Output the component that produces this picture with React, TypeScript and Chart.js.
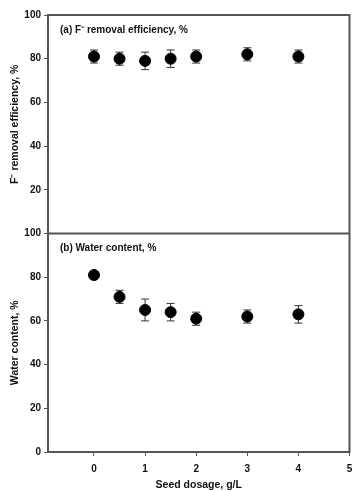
import React, { useEffect, useRef } from "react";
import { Chart, registerables } from "chart.js";

Chart.register(...registerables);

// Seed dosage (g/L) and measured responses with ± error
const dosage = [0, 0.5, 1, 1.5, 2, 3, 4];
const removal = [81, 80, 79, 80, 81, 82, 81];
const removalErr = [3, 3, 4, 4, 3, 3, 3];
const water = [81, 71, 65, 64, 61, 62, 63];
const waterErr = [1.5, 3, 5, 4, 3, 3, 4];
const xTicks = [0, 1, 2, 3, 4, 5];
const yTicks = [0, 20, 40, 60, 80, 100];

const AXIS = "#555555";
const FONT = "'Liberation Sans', Arial, sans-serif";

const errors: Record<string, number[]> = { yTop: removalErr, yBottom: waterErr };

const errorBars = {
  id: "errorBars",
  beforeDatasetsDraw(chart: any) {
    const ctx = chart.ctx;
    const xs = chart.scales.x;
    chart.data.datasets.forEach((ds: any) => {
      const ys = chart.scales[ds.yAxisID];
      const err = errors[ds.yAxisID];
      ctx.save();
      ctx.strokeStyle = "#333";
      ctx.lineWidth = 1;
      ds.data.forEach((p: any, i: number) => {
        const x = xs.getPixelForValue(p.x);
        const y1 = ys.getPixelForValue(p.y - err[i]);
        const y2 = ys.getPixelForValue(p.y + err[i]);
        ctx.beginPath();
        ctx.moveTo(x, y1);
        ctx.lineTo(x, y2);
        ctx.moveTo(x - 4, y1);
        ctx.lineTo(x + 4, y1);
        ctx.moveTo(x - 4, y2);
        ctx.lineTo(x + 4, y2);
        ctx.stroke();
      });
      ctx.restore();
    });
  },
};

const frame = {
  id: "frame",
  afterDraw(chart: any) {
    const ctx = chart.ctx;
    const { left, right, top, bottom } = chart.chartArea;
    const top1 = chart.scales.yTop;
    const bot = chart.scales.yBottom;
    ctx.save();
    ctx.strokeStyle = AXIS;
    ctx.lineWidth = 2;
    ctx.strokeRect(left, top, right - left, bottom - top);
    const mid = bot.top;
    ctx.beginPath();
    ctx.moveTo(left, mid);
    ctx.lineTo(right, mid);
    ctx.stroke();
    ctx.fillStyle = "#111";
    ctx.font = `bold 10px ${FONT}`;
    ctx.textBaseline = "middle";
    ctx.fillText("(a) F\u207B removal efficiency, %", left + 12, top1.top + 15);
    ctx.fillText("(b) Water content, %", left + 12, bot.top + 15);
    ctx.restore();
  },
};

export default function App() {
  const ref = useRef<HTMLCanvasElement>(null);
  useEffect(() => {
    document.body.style.margin = "0";
    const yAxis = (title: string, hideZero: boolean) => ({
      type: "linear" as const,
      position: "left" as const,
      stack: "panels",
      stackWeight: 1,
      min: 0,
      max: 100,
      afterBuildTicks: (s: any) => {
        s.ticks = yTicks.filter((v) => !(hideZero && v === 0)).map((v) => ({ value: v }));
      },
      afterFit: (s: any) => {
        s.width = 48;
      },
      grid: { drawOnChartArea: false, drawTicks: true, tickLength: 4, color: AXIS, lineWidth: 1 },
      border: { display: true, color: AXIS, width: 2 },
      ticks: {
        padding: 3,
        color: "#111",
        font: { family: FONT, size: 10, weight: "bold" as const },
      },
      title: {
        display: true,
        text: title,
        color: "#111",
        padding: { top: 9, bottom: 0 },
        font: { family: FONT, size: 10.5, weight: "bold" as const },
      },
    });
    const chart = new Chart(ref.current!, {
      type: "scatter",
      data: {
        datasets: [
          {
            label: "Water content",
            data: dosage.map((x, i) => ({ x, y: water[i] })),
            yAxisID: "yBottom",
            backgroundColor: "#000",
            borderColor: "#000",
            pointRadius: 5.5,
          },
          {
            label: "F- removal",
            data: dosage.map((x, i) => ({ x, y: removal[i] })),
            yAxisID: "yTop",
            backgroundColor: "#000",
            borderColor: "#000",
            pointRadius: 5.5,
          },
        ],
      },
      options: {
        responsive: false,
        animation: false,
        layout: { padding: { top: 15, right: -2, left: 0, bottom: 0 } },
        plugins: { legend: { display: false }, tooltip: { enabled: false } },
        scales: {
          x: {
            type: "linear",
            min: -0.9,
            max: 5,
            afterBuildTicks: (s: any) => {
              s.ticks = xTicks.map((v) => ({ value: v }));
            },
            afterFit: (s: any) => {
              s.height = 39;
              s.paddingRight = 0;
            },
            grid: { drawOnChartArea: false, drawTicks: true, tickLength: 4, color: AXIS },
            border: { display: true, color: AXIS, width: 2 },
            ticks: {
              padding: 7,
              color: "#111",
              font: { family: FONT, size: 10, weight: "bold" },
            },
            title: {
              display: true,
              text: "Seed dosage, g/L",
              color: "#111",
              padding: { top: 3, bottom: 0 },
              font: { family: FONT, size: 10.5, weight: "bold" },
            },
          },
          yBottom: yAxis("Water content, %", false),
          yTop: yAxis("F\u207B removal efficiency, %", true),
        },
      },
      plugins: [errorBars, frame],
    });
    return () => chart.destroy();
  }, []);
  return (
    <div style={{ position: "relative", width: 356, height: 491, background: "#fff" }}>
      <canvas ref={ref} width={356} height={491} />
    </div>
  );
}
